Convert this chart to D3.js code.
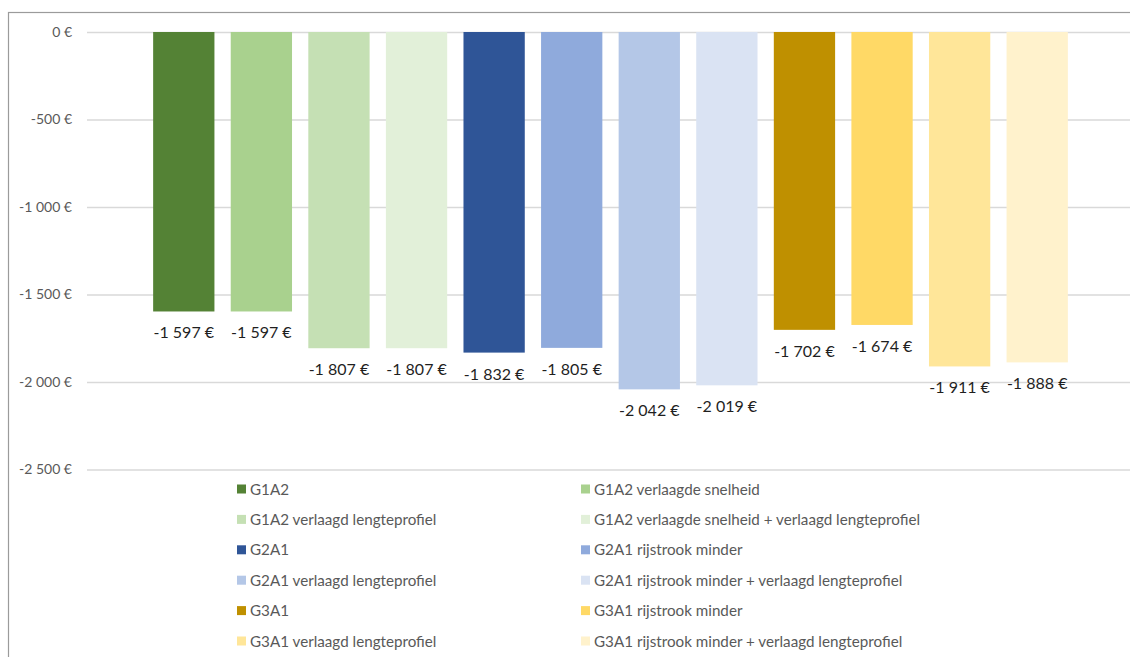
<!DOCTYPE html>
<html lang="nl">
<head>
<meta charset="UTF-8">
<title>Kosten per variant</title>
<script src="https://d3js.org/d3.v7.min.js"></script>
<style>
  body { margin: 0; background: #fff; }
  text { font-family: Lato, "Open Sans", sans-serif; }
</style>
</head>
<body>
<div class="canvas"></div>
<script>
  // data
  const series = [
    'G1A2', 'G1A2 verlaagde snelheid',
    'G1A2 verlaagd lengteprofiel', 'G1A2 verlaagde snelheid + verlaagd lengteprofiel',
    'G2A1', 'G2A1 rijstrook minder',
    'G2A1 verlaagd lengteprofiel', 'G2A1 rijstrook minder + verlaagd lengteprofiel',
    'G3A1', 'G3A1 rijstrook minder',
    'G3A1 verlaagd lengteprofiel', 'G3A1 rijstrook minder + verlaagd lengteprofiel'
  ]
  const values = [-1597, -1597, -1807, -1807, -1832, -1805, -2042, -2019, -1702, -1674, -1911, -1888]
  const colors = ['#548235', '#a9d18e', '#c5e0b4', '#e2f0d9',
                  '#2f5597', '#8faadc', '#b4c7e7', '#dae3f3',
                  '#bf9000', '#ffd966', '#ffe699', '#fff2cc']
  const yTicks = [0, -500, -1000, -1500, -2000, -2500]

  const W = 1130, H = 657

  const svg = d3.select('.canvas')
    .append('svg')
    .attr('width', W)
    .attr('height', H)

  // chart frame (runs off the right and bottom of the picture)
  svg.append('rect')
    .attr('x', 8.5).attr('y', 12.5)
    .attr('width', 1140).attr('height', 660)
    .attr('fill', 'none')
    .attr('stroke', '#9b9b9b')
    .attr('stroke-width', 1.2)

  const nl = d3.formatLocale({ decimal: ',', thousands: '\u00a0', grouping: [3], currency: ['', ' €'], minus: '-' })
  const fmt = nl.format(',d')

  const y = d3.scaleLinear()
    .domain([-2500, 0])
    .range([469.5, 32])

  const x = d3.scaleBand()
    .domain(series)
    .range([145, 1076])
    .paddingInner(0.21)
    .paddingOuter(0.105)

  // gridlines + tick labels
  const yAxis = d3.axisLeft(y)
    .tickValues(yTicks)
    .tickSize(-(1140 - 87))
    .tickPadding(15)
    .tickFormat(d => fmt(d) + ' €')

  const ga = svg.append('g')
    .attr('transform', 'translate(87,0)')
    .call(yAxis)
  ga.select('.domain').remove()
  ga.selectAll('line').attr('stroke', '#d9d9d9').attr('stroke-width', 1.3)
  ga.selectAll('text')
    .attr('fill', '#595959')
    .style('font-size', '14px')
    .style('font-family', 'Lato, sans-serif')

  // bars
  svg.selectAll('rect.bar')
    .data(values)
    .enter()
    .append('rect')
    .attr('class', 'bar')
    .attr('x', (d, i) => x(series[i]))
    .attr('width', x.bandwidth())
    .attr('y', y(0))
    .attr('height', d => y(d) - y(0))
    .attr('fill', (d, i) => colors[i])

  // value labels under each bar
  svg.selectAll('text.lbl')
    .data(values)
    .enter()
    .append('text')
    .attr('class', 'lbl')
    .attr('x', (d, i) => x(series[i]) + x.bandwidth() / 2)
    .attr('y', d => y(d) + 27)
    .attr('text-anchor', 'middle')
    .attr('fill', '#1f1f1f')
    .style('font-size', '16px')
    .text(d => fmt(d) + ' €')

  // legend: two columns, six rows
  const lg = svg.append('g')
  const item = lg.selectAll('g')
    .data(series)
    .enter()
    .append('g')
    .attr('transform', (d, i) => `translate(${i % 2 ? 581 : 237},${489 + Math.floor(i / 2) * 30.4})`)
  item.append('rect')
    .attr('x', 0).attr('y', -4.5)
    .attr('width', 9).attr('height', 9)
    .attr('fill', (d, i) => colors[i])
  item.append('text')
    .attr('x', 13)
    .attr('y', 5.5)
    .attr('fill', '#595959')
    .style('font-size', '15.2px')
    .text(d => d)
</script>
</body>
</html>
